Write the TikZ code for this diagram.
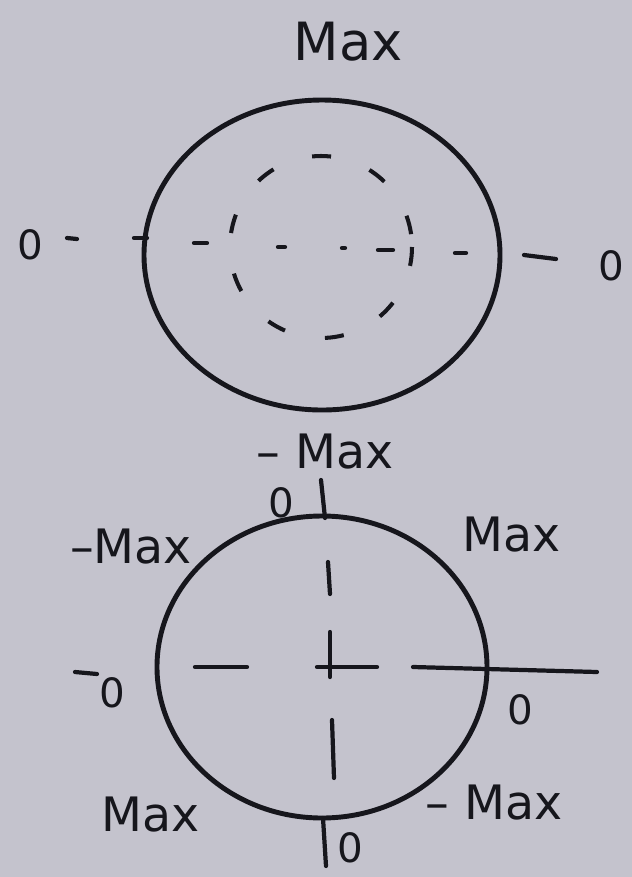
\documentclass[tikz,border=0pt]{standalone}
\usepackage{fontspec}
\setmainfont{DejaVu Sans}
\definecolor{paper}{RGB}{196,195,205}
\definecolor{ink}{RGB}{22,22,28}

\begin{document}
\begin{tikzpicture}[
    x=0.02cm, y=-0.02cm,
    outline/.style={draw=ink, line width=2.8pt},
    tickmark/.style={draw=ink, line width=2.4pt, line cap=round},
    mylabel/.style={text=ink, font=\fontsize{27}{30}\selectfont, inner sep=0pt},
    zerolabel/.style={mylabel, font=\fontsize{23}{26}\selectfont}
]
    % paper
    \fill[paper] (0,0) rectangle (632,877);
    \useasboundingbox (0,0) rectangle (632,877);

    % upper circle
    \begin{scope}
        \coordinate (upc) at (322,255);
        \coordinate (inc) at (321,247);
        \draw[outline] (upc) ellipse [x radius=178, y radius=155];
        \draw[ink, line width=2.3pt, dash pattern=on 0.38cm off 0.82cm] (inc) circle [radius=91];

        \foreach \xa/\ya/\xb/\yb in {67/238/77/239, 134/238/147/238, 194/243/207/243,
            278/247/285/247, 342/248/345/248, 378/250/393/250, 455/253/466/253, 524/255/556/259}
            \draw[tickmark] (\xa,\ya) -- (\xb,\yb);

        \node[mylabel, font=\fontsize{30}{34}\selectfont] (upmax) at (348,42) {Max};
        \node[zerolabel] (upleft) at (30,245) {0};
        \node[zerolabel] (upright) at (611,266) {0};
    \end{scope}

    % lower circle
    \begin{scope}
        \coordinate (loc) at (322,667);
        \draw[outline] (loc) ellipse [x radius=165, y radius=151];

        \foreach \xa/\ya/\xb/\yb in {321/480/325/518, 328/562/330/594, 330/632/330/677,
            195/667/247/667, 317/667/377/667, 413/667/597/672, 332/720/334/778,
            323/818/326/866, 75/672/97/674}
            \draw[tickmark] (\xa,\ya) -- (\xb,\yb);

        \node[mylabel] (lotop) at (325,452) {-- Max};
        \node[zerolabel] (lotopzero) at (281,503) {0};
        \node[mylabel] (loupleft) at (131,547) {--Max};
        \node[mylabel] (loupright) at (512,535) {Max};
        \node[zerolabel] (loleft) at (112,693) {0};
        \node[zerolabel] (loright) at (520,710) {0};
        \node[mylabel] (lolowleft) at (151,815) {Max};
        \node[mylabel] (lolowright) at (494,803) {-- Max};
        \node[zerolabel] (lobottom) at (350,848) {0};
    \end{scope}
\end{tikzpicture}
\end{document}
